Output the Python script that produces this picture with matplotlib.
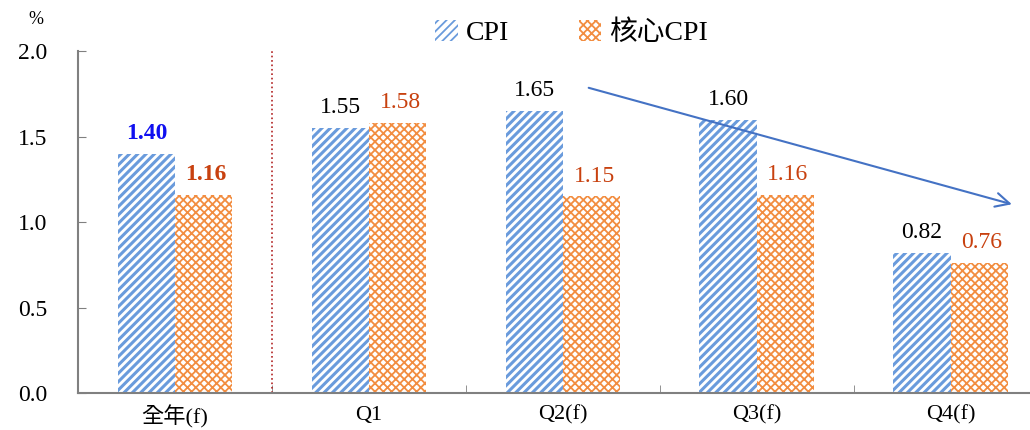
import matplotlib.pyplot as plt
import matplotlib.patches as mpatches
import numpy as np

plt.rcParams['font.family'] = ['Liberation Serif', 'Noto Sans CJK TC']

categories = ['全年(f)', 'Q1', 'Q2(f)', 'Q3(f)', 'Q4(f)']
cpi = [1.40, 1.55, 1.65, 1.60, 0.82]
core_cpi = [1.16, 1.58, 1.15, 1.16, 0.76]

blue = '#6A9BDC'
orange = '#F28D40'
red_txt = '#C8410F'

fig = plt.figure(figsize=(10.3, 4.3), dpi=100)
ax = fig.add_axes([0.0757, 0.086, 0.93, 0.795])

x = np.arange(len(categories))
w = 0.295
plt.rcParams['hatch.linewidth'] = 2.2
b1 = ax.bar(x - w / 2, cpi, w, facecolor='white', edgecolor=blue, hatch='////', linewidth=0)
h1 = mpatches.Patch(facecolor='white', edgecolor=blue, hatch='////', linewidth=0, label='CPI')
plt.rcParams['hatch.linewidth'] = 1.3
b2 = ax.bar(x + w / 2, core_cpi, w, facecolor='white', edgecolor=orange, hatch='xxxx', linewidth=0)
h2 = mpatches.Patch(facecolor='white', edgecolor=orange, hatch='xxxx', linewidth=0, label='核心CPI')

for i in range(len(categories)):
    bold = 'bold' if i == 0 else 'normal'
    ax.annotate(f'{cpi[i]:.2f}', (x[i] - w / 2, cpi[i]), xytext=(0, 7), textcoords='offset points',
                ha='center', va='bottom', fontsize=17, fontweight=bold,
                color='#1010F0' if i == 0 else 'black')
    ax.annotate(f'{core_cpi[i]:.2f}', (x[i] + w / 2, core_cpi[i]), xytext=(2, 7), textcoords='offset points',
                ha='center', va='bottom', fontsize=17, fontweight=bold, color=red_txt)

ax.axvline(0.5, color='#B22222', linestyle=':', linewidth=1.2)

ax.annotate('', xy=(4.33, 1.10), xytext=(2.12, 1.79),
            arrowprops=dict(arrowstyle='->', color='#4472C4', lw=1.5, mutation_scale=25))

ax.set_xlim(-0.5, 4.44)
ax.set_ylim(0, 2.0)
ax.set_yticks([0, 0.5, 1.0, 1.5, 2.0])
ax.set_yticklabels(['0.0', '0.5', '1.0', '1.5', '2.0'])
ax.set_xticks(x)
ax.set_xticklabels(categories)
ax.set_xticks(x[:-1] + 0.5, minor=True)
ax.tick_params(axis='x', which='major', length=0, pad=9, labelsize=16)
ax.tick_params(axis='x', which='minor', direction='in', length=6, color='#808080')
ax.tick_params(axis='y', direction='in', length=6, color='#808080', pad=22, labelsize=17)

for s in ['top', 'right']:
    ax.spines[s].set_visible(False)
for s in ['left', 'bottom']:
    ax.spines[s].set_color('#808080')
    ax.spines[s].set_linewidth(1.5)

fig.text(0.028, 0.955, '%', fontsize=13, va='center')

fig.legend(handles=[h1, h2], loc='center', bbox_to_anchor=(0.555, 0.923), ncol=2, frameon=False,
           fontsize=20, handlelength=0.8, handleheight=0.8, handletextpad=0.3, columnspacing=2.5)

fig.savefig('out.png', dpi=100)
